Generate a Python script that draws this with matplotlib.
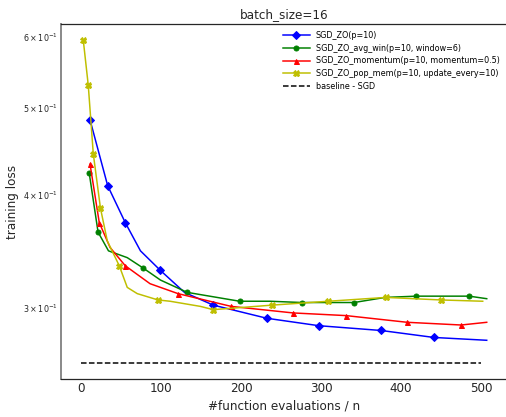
import matplotlib
matplotlib.use("Agg")
import matplotlib.pyplot as plt

# values
blue_x = [11, 33, 55, 74, 99, 129, 165, 232, 297, 375, 441, 507]
blue_y = [0.485, 0.410, 0.373, 0.347, 0.330, 0.312, 0.302, 0.292, 0.2865, 0.283, 0.278, 0.276]
blue_marks = [0, 1, 2, 4, 6, 7, 8, 9, 10]

green_x = [10, 21, 34, 57.5, 77.5, 99, 132.5, 198, 236, 276, 341, 380, 419, 485, 507]
green_y = [0.423, 0.364, 0.347, 0.341, 0.332, 0.322, 0.312, 0.305, 0.305, 0.304, 0.304, 0.308, 0.309, 0.309, 0.307]
green_marks = [0, 1, 4, 6, 7, 9, 10, 12, 13]

red_x = [11, 22.5, 36, 55, 86, 121, 187.5, 265, 331, 407.5, 475, 507]
red_y = [0.433, 0.373, 0.350, 0.334, 0.319, 0.311, 0.301, 0.296, 0.294, 0.289, 0.287, 0.289]
red_marks = [0, 1, 3, 5, 6, 7, 8, 9, 10]

yel_x = [2.5, 8.75, 15, 24, 32.5, 47.5, 57.5, 70, 96, 111, 149, 165, 239, 309, 381, 450, 502]
yel_y = [0.595, 0.530, 0.445, 0.387, 0.356, 0.334, 0.316, 0.311, 0.306, 0.305, 0.301, 0.2985, 0.302, 0.305, 0.308, 0.306, 0.305]
yel_marks = [0, 1, 2, 3, 5, 8, 11, 12, 13, 14, 15]

base_x = [0, 500]
base_y = [0.2605, 0.2605]

labels = ["SGD_ZO(p=10)",
          "SGD_ZO_avg_win(p=10, window=6)",
          "SGD_ZO_momentum(p=10, momentum=0.5)",
          "SGD_ZO_pop_mem(p=10, update_every=10)",
          "baseline - SGD"]

fig = plt.figure(figsize=(506/72, 417/72), dpi=72)
ax = fig.add_axes([61/506, 1 - 379/417, 446/506, 355/417])

ax.plot(blue_x, blue_y, color='b', marker='D', markersize=5, lw=1.5,
        markevery=blue_marks, label=labels[0])
ax.plot(green_x, green_y, color='g', marker='o', markersize=5, lw=1.5,
        markevery=green_marks, label=labels[1])
ax.plot(red_x, red_y, color='r', marker='^', markersize=5, lw=1.5,
        markevery=red_marks, label=labels[2])
ax.plot(yel_x, yel_y, color='y', marker='X', markersize=6, lw=1.5,
        markevery=yel_marks, label=labels[3])
ax.plot(base_x, base_y, 'k--', lw=1.5, label=labels[4])

ax.set_yscale('log')
ax.set_title("batch_size=16", fontsize=12, color='0.15')
ax.set_xlabel("#function evaluations / n", fontsize=12, color='0.15')
ax.set_ylabel("training loss", fontsize=12, color='0.15')
ax.tick_params(axis='both', which='both', length=0, colors='0.15')
ax.tick_params(axis='x', labelsize=12)
ax.tick_params(axis='y', which='minor', labelsize=8)
ax.set_xticks([0, 100, 200, 300, 400, 500])

for s in ['top', 'bottom', 'right']:
    ax.spines[s].set_color('0.15')
    ax.spines[s].set_linewidth(1.25)
ax.spines['left'].set_color('0.55')
ax.spines['left'].set_linewidth(2)

ax.legend(loc='upper right', frameon=False, fontsize=8, handlelength=3.3,
          labelspacing=0.45)

fig.savefig("out.png", dpi=72)
